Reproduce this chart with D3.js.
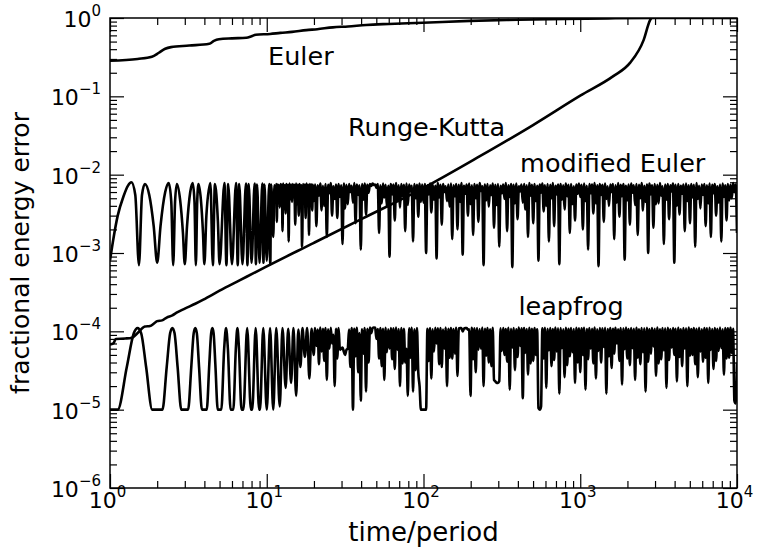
<!DOCTYPE html>
<html>
<head>
<meta charset="utf-8">
<script src="https://cdn.jsdelivr.net/npm/d3@7"></script>
<style>
  html, body { margin: 0; padding: 0; background: #fff; }
  svg { display: block; font-family: "DejaVu Sans", sans-serif; }
</style>
</head>
<body>
<div id="chart"></div>
<script>
// ---- data: [time/period, fractional energy error] ----
const euler = [
  [1.0, 0.285], [1.5, 0.30], [1.85, 0.32], [2.05, 0.36], [2.25, 0.405], [2.45, 0.425],
  [3.2, 0.445], [4.3, 0.47], [4.6, 0.51], [4.95, 0.535], [6.0, 0.55], [7.4, 0.56],
  [8.0, 0.585], [8.5, 0.61], [10.5, 0.625], [12.2, 0.645], [14.5, 0.665], [17.9, 0.70],
  [21, 0.72], [26.4, 0.76], [33, 0.78], [43, 0.815], [60, 0.84], [99, 0.87],
  [198, 0.92], [400, 0.95], [800, 0.975], [1500, 0.99], [3000, 1.0], [10000, 1.0]
];

const rungeKutta = [
  [1.0, 6.8e-5], [1.05, 7.0e-5], [1.09, 8.0e-5], [1.25, 8.1e-5], [1.38, 8.3e-5],
  [1.5, 9.5e-5], [1.67, 1.15e-4], [1.8, 1.17e-4], [1.9, 1.25e-4], [2.0, 1.35e-4],
  [2.15, 1.38e-4], [2.3, 1.5e-4], [2.5, 1.6e-4], [2.66, 1.73e-4], [3.0, 1.95e-4],
  [3.5, 2.25e-4], [3.94, 2.54e-4], [5.0, 3.3e-4], [6.75, 4.5e-4], [9.06, 6.1e-4],
  [20, 1.35e-3], [41.3, 2.79e-3], [95, 6.4e-3], [229, 1.72e-2], [500, 4.3e-2],
  [1000, 0.102], [1625, 0.181], [2077, 0.267], [2540, 0.526], [2790, 0.94], [2850, 1.0]
];

const modEulerEarly = [
  [1.0, 8.0e-4], [1.05, 1.5e-3], [1.12, 3.0e-3], [1.22, 5.3e-3], [1.3, 7.2e-3], [1.37, 8.0e-3],
  [1.45, 5.5e-3], [1.53, 7.0e-4], [1.6, 5.5e-3], [1.67, 7.6e-3], [1.78, 5.5e-3], [1.9, 2.2e-3],
  [2.0, 7.5e-4], [2.1, 2.2e-3], [2.25, 6.0e-3], [2.37, 7.8e-3], [2.46, 4.5e-3], [2.53, 7.0e-4],
  [2.6, 4.5e-3], [2.67, 7.6e-3], [2.8, 4.8e-3], [2.92, 1.8e-3], [3.0, 7.2e-4], [3.1, 2.2e-3],
  [3.25, 6.0e-3], [3.37, 7.8e-3], [3.46, 4.5e-3], [3.53, 7.0e-4], [3.6, 4.5e-3], [3.67, 7.6e-3],
  [3.8, 4.8e-3], [3.92, 1.8e-3], [4.0, 7.2e-4], [4.12, 3.0e-3], [4.37, 7.8e-3], [4.53, 7.0e-4],
  [4.67, 7.6e-3], [4.88, 2.5e-3], [5.0, 7.2e-4], [5.37, 7.8e-3], [5.53, 7.0e-4], [5.67, 7.6e-3],
  [6.0, 7.2e-4], [6.37, 7.8e-3], [6.53, 7.0e-4], [6.67, 7.6e-3], [7.0, 7.2e-4], [7.37, 7.7e-3],
  [7.53, 7.0e-4], [7.67, 7.6e-3], [8.0, 7.5e-4], [8.37, 7.7e-3], [8.53, 7.2e-4], [8.67, 7.5e-3],
  [9.0, 7.5e-4], [9.37, 7.7e-3], [9.53, 7.5e-4], [9.67, 7.5e-3], [10.0, 8.0e-4], [10.37, 7.6e-3],
  [10.53, 7.2e-4], [10.67, 7.5e-3], [11.0, 1.6e-3], [11.2, 7.3e-3], [11.4, 4.6e-3], [11.5, 7.6e-3],
  [11.6, 2.5e-3], [11.7, 7.5e-3], [11.8, 5.0e-3], [11.95, 7.4e-3], [12.1, 3.8e-3], [12.25, 7.6e-3],
  [12.4, 5.2e-3], [12.5, 7.5e-3], [12.6, 1.9e-3], [12.75, 7.7e-3], [12.9, 4.4e-3], [13.05, 7.3e-3],
  [13.2, 3.2e-3], [13.35, 7.6e-3], [13.5, 5.5e-3], [13.65, 7.4e-3], [13.8, 1.4e-3], [13.95, 7.7e-3],
  [14.1, 4.8e-3], [14.3, 7.5e-3], [14.5, 4.5e-3], [14.65, 7.6e-3], [14.8, 5.3e-3], [15.0, 7.4e-3],
  [15.2, 2.3e-3], [15.4, 7.7e-3], [15.6, 4.2e-3], [15.8, 7.5e-3], [16.0, 3.0e-3], [16.2, 7.6e-3],
  [16.4, 5.6e-3], [16.6, 7.3e-3], [16.8, 1.2e-3], [17.05, 7.6e-3], [17.3, 4.7e-3], [17.5, 7.5e-3],
  [17.7, 2.8e-3], [17.95, 7.7e-3], [18.2, 5.1e-3], [18.4, 7.4e-3], [18.6, 1.7e-3], [18.85, 7.6e-3],
  [19.1, 4.9e-3], [19.3, 7.5e-3], [19.5, 3.5e-3], [19.7, 7.4e-3]
];

const leapfrogEarly = [
  [1.0, 1.0e-5], [1.12, 1.0e-5], [1.28, 3.5e-5], [1.42, 9.5e-5], [1.5, 1.1e-4], [1.58, 9.5e-5],
  [1.7, 3.5e-5], [1.86, 1.0e-5], [2.16, 1.0e-5], [2.3, 3.5e-5], [2.42, 9.5e-5], [2.5, 1.1e-4],
  [2.58, 9.5e-5], [2.7, 3.5e-5], [2.85, 1.0e-5], [3.15, 1.0e-5], [3.3, 3.5e-5], [3.42, 9.5e-5],
  [3.5, 1.1e-4], [3.58, 9.5e-5], [3.7, 3.5e-5], [3.86, 1.0e-5], [4.14, 1.0e-5], [4.3, 3.8e-5],
  [4.42, 9.5e-5], [4.5, 1.1e-4], [4.58, 9.5e-5], [4.7, 3.8e-5], [4.87, 1.0e-5], [5.13, 1.0e-5],
  [5.35, 6.0e-5], [5.5, 1.1e-4], [5.65, 6.0e-5], [5.88, 1.0e-5], [6.12, 1.0e-5], [6.35, 6.0e-5],
  [6.5, 1.1e-4], [6.65, 6.0e-5], [6.9, 1.0e-5], [7.1, 1.0e-5], [7.5, 1.1e-4], [7.92, 1.0e-5],
  [8.08, 1.0e-5], [8.5, 1.1e-4], [8.94, 1.0e-5], [9.06, 1.0e-5], [9.5, 1.1e-4], [10.0, 1.0e-5],
  [10.5, 1.1e-4], [11.0, 1.0e-5], [11.5, 1.1e-4], [12.1, 1.1e-5], [12.6, 1.1e-4], [13.2, 1.9e-5],
  [13.7, 1.08e-4], [14.3, 2.2e-5], [14.8, 1.1e-4], [15.4, 1.5e-5], [15.9, 1.05e-4], [16.4, 3.5e-5],
  [16.9, 1.1e-4], [17.5, 4.7e-5], [18.1, 1.1e-4], [18.7, 2.5e-5], [19.3, 1.08e-4]
];

// output times of the long-run samples (shared by the two noisy series)
const noiseTimes = [
  19.95, 20.73, 21.54, 22.39, 23.26, 24.17, 25.12, 26.10, 27.12, 28.18, 29.29, 30.43, 31.62, 32.86,
  34.15, 35.48, 36.87, 38.31, 39.81, 41.37, 42.99, 44.67, 46.42, 48.23, 50.12, 52.08, 54.12, 56.23,
  58.43, 60.72, 63.10, 65.57, 68.13, 70.79, 73.56, 76.44, 79.43, 82.54, 85.77, 89.13, 92.61, 96.24,
  100, 103.9, 108.0, 112.2, 116.6, 121.2, 125.9, 130.8, 135.9, 141.3, 146.8, 152.5, 158.5, 164.7,
  171.1, 177.8, 184.8, 192.0, 199.5, 207.3, 215.4, 223.9, 232.6, 241.7, 251.2, 261.0, 271.2, 281.8,
  292.9, 304.3, 316.2, 328.6, 341.5, 354.8, 368.7, 383.1, 398.1, 413.7, 429.9, 446.7, 464.2, 482.3,
  501.2, 520.8, 541.2, 562.3, 584.3, 607.2, 631.0, 655.7, 681.3, 707.9, 735.6, 764.4, 794.3, 825.4,
  857.7, 891.3, 926.1, 962.4,
  1000, 1039, 1080, 1122, 1166, 1212, 1259, 1308, 1359, 1413, 1468, 1525, 1585, 1647, 1711, 1778,
  1848, 1920, 1995, 2073, 2154, 2239, 2326, 2417, 2512, 2610, 2712, 2818, 2929, 3043, 3162, 3286,
  3415, 3548, 3687, 3831, 3981, 4137, 4299, 4467, 4642, 4823, 5012, 5208, 5412, 5623, 5843, 6072,
  6310, 6557, 6813, 7079, 7356, 7644, 7943, 8254, 8577, 8913, 9261, 9624, 10000
];

// the in-between output times
const noiseMidTimes = [
  20.34, 21.13, 21.96, 22.82, 23.71, 24.64, 25.61, 26.61, 27.65, 28.73, 29.86, 31.02, 32.23, 33.50,
  34.81, 36.17, 37.58, 39.05, 40.58, 42.17, 43.82, 45.54, 47.32, 49.16, 51.09, 53.09, 55.17, 57.32,
  59.56, 61.90, 64.32, 66.84, 69.45, 72.16, 74.99, 77.92, 80.97, 84.14, 87.43, 90.86, 94.40, 98.10,
  101.9, 105.9, 110.1, 114.4, 118.9, 123.5, 128.3, 133.3, 138.5, 144.0, 149.6, 155.5, 161.6, 167.9,
  174.4, 181.2, 188.4, 195.7, 203.4, 211.3, 219.6, 228.2, 237.1, 246.4, 256.1, 266.1, 276.5, 287.3,
  298.6, 310.2, 322.3, 335.0, 348.1, 361.7, 375.8, 390.5, 405.8, 421.7, 438.2, 455.4, 473.2, 491.6,
  510.9, 530.9, 551.7, 573.2, 595.6, 619.0, 643.2, 668.4, 694.5, 721.6, 749.9, 779.2, 809.7, 841.4,
  874.3, 908.6, 944.0, 981.0,
  1019, 1059, 1101, 1144, 1189, 1235, 1283, 1333, 1385, 1440, 1496, 1555, 1616, 1679, 1744, 1812,
  1884, 1957, 2034, 2113, 2196, 2282, 2371, 2464, 2561, 2661, 2765, 2873, 2986, 3102, 3223, 3350,
  3481, 3617, 3758, 3905, 4058, 4217, 4382, 4554, 4732, 4916, 5109, 5309, 5517, 5732, 5956, 6190,
  6432, 6684, 6945, 7216, 7499, 7792, 8097, 8414, 8743, 9086, 9440, 9810
];

// modified Euler: troughs at noiseTimes, crests at noiseMidTimes
const modEulerLate = [
  4.6e-3, 2.2e-3, 5.4e-3, 3.5e-3, 4.0e-3, 1.6e-3, 5.8e-3, 3.0e-3, 4.9e-3, 2.8e-3,
  5.2e-3, 1.3e-3, 3.7e-3, 4.2e-3, 6.0e-3, 4.4e-3, 2.4e-3, 5.5e-3, 1.1e-3, 4.8e-3,
  3.1e-3, 5.9e-3, 7.2e-3, 7.4e-3, 6.8e-3, 1.8e-3, 4.3e-3, 5.1e-3, 3.9e-3, 9.0e-4,
  5.6e-3, 2.6e-3, 4.7e-3, 3.8e-3, 5.3e-3, 1.9e-3, 4.1e-3, 6.1e-3, 1.4e-3, 5.0e-3,
  2.9e-3, 4.5e-3,
  4.4e-3, 1.0e-3, 5.6e-3, 3.3e-3, 4.8e-3, 8.5e-4, 5.1e-3, 2.3e-3, 6.0e-3, 4.6e-3,
  3.9e-3, 1.5e-3, 5.3e-3, 2.0e-3, 4.5e-3, 9.5e-4, 5.7e-3, 3.0e-3, 4.2e-3, 1.7e-3,
  5.0e-3, 2.5e-3, 6.2e-3, 7.0e-4, 4.7e-3, 3.9e-3, 5.5e-3, 2.1e-3, 4.1e-3, 1.2e-3,
  5.8e-3, 4.9e-3, 1.9e-3, 5.2e-3, 6.6e-4, 4.3e-3, 2.7e-3, 6.1e-3, 4.4e-3, 3.6e-3,
  1.6e-3, 5.4e-3, 2.4e-3, 4.6e-3, 8.0e-4, 5.9e-3, 3.4e-3, 4.0e-3, 1.4e-3, 5.0e-3,
  2.2e-3, 5.6e-3, 7.2e-4, 4.8e-3, 3.6e-3, 5.3e-3, 1.8e-3, 4.2e-3, 2.6e-3, 5.7e-3,
  5.2e-3, 2.0e-3, 4.6e-3, 1.1e-3, 5.8e-3, 3.2e-3, 4.3e-3, 6.8e-4, 5.5e-3, 2.5e-3,
  4.9e-3, 4.0e-3, 6.0e-3, 1.5e-3, 4.4e-3, 2.9e-3, 5.3e-3, 8.2e-4, 4.7e-3, 2.3e-3,
  5.9e-3, 4.1e-3, 1.7e-3, 5.0e-3, 3.5e-3, 4.5e-3, 1.0e-3, 5.6e-3, 2.1e-3, 4.2e-3,
  4.3e-3, 5.4e-3, 1.3e-3, 4.8e-3, 2.7e-3, 6.1e-3, 7.5e-4, 4.0e-3, 3.1e-3, 5.7e-3,
  1.9e-3, 4.6e-3, 2.4e-3, 5.1e-3, 1.2e-3, 4.9e-3, 3.7e-3, 5.5e-3, 2.2e-3, 4.3e-3,
  1.6e-3, 5.8e-3, 3.0e-3, 4.4e-3, 1.4e-3, 5.2e-3, 2.6e-3, 4.7e-3, 5.0e-3, 6.0e-3, 1.8e-3
];

const modEulerMid = [
  7.5e-3, 7.3e-3, 7.7e-3, 7.2e-3, 7.6e-3, 7.4e-3, 7.8e-3, 7.1e-3, 7.5e-3, 7.6e-3,
  7.3e-3, 7.7e-3, 7.4e-3, 7.6e-3, 7.2e-3, 7.8e-3, 7.5e-3, 7.3e-3, 7.6e-3, 7.7e-3,
  7.4e-3, 7.6e-3, 7.7e-3, 7.5e-3, 7.6e-3, 7.3e-3, 7.7e-3, 7.4e-3, 7.2e-3, 7.6e-3,
  7.5e-3, 7.8e-3, 7.3e-3, 7.6e-3, 7.4e-3, 7.7e-3, 7.5e-3, 7.2e-3, 7.6e-3, 7.4e-3,
  7.7e-3, 7.5e-3,
  7.6e-3, 7.3e-3, 7.7e-3, 7.5e-3, 7.2e-3, 7.8e-3, 7.4e-3, 7.6e-3, 7.1e-3, 7.5e-3,
  7.7e-3, 7.3e-3, 7.6e-3, 7.4e-3, 7.8e-3, 7.2e-3, 7.5e-3, 7.7e-3, 7.3e-3, 7.6e-3,
  7.4e-3, 7.8e-3, 7.1e-3, 7.5e-3, 7.6e-3, 7.3e-3, 7.7e-3, 7.4e-3, 7.6e-3, 7.2e-3,
  7.5e-3, 7.8e-3, 7.3e-3, 7.6e-3, 7.4e-3, 7.7e-3, 7.1e-3, 7.5e-3, 7.6e-3, 7.3e-3,
  7.8e-3, 7.4e-3, 7.6e-3, 7.2e-3, 7.5e-3, 7.7e-3, 7.3e-3, 7.6e-3, 7.4e-3, 7.8e-3,
  7.2e-3, 7.5e-3, 7.6e-3, 7.3e-3, 7.7e-3, 7.4e-3, 7.6e-3, 7.1e-3, 7.5e-3, 7.7e-3,
  7.4e-3, 7.7e-3, 7.2e-3, 7.6e-3, 7.5e-3, 7.8e-3, 7.3e-3, 7.6e-3, 7.4e-3, 7.7e-3,
  7.1e-3, 7.5e-3, 7.6e-3, 7.3e-3, 7.8e-3, 7.4e-3, 7.6e-3, 7.2e-3, 7.5e-3, 7.7e-3,
  7.3e-3, 7.6e-3, 7.4e-3, 7.8e-3, 7.2e-3, 7.5e-3, 7.7e-3, 7.3e-3, 7.6e-3, 7.4e-3,
  7.8e-3, 7.1e-3, 7.5e-3, 7.6e-3, 7.3e-3, 7.7e-3, 7.4e-3, 7.6e-3, 7.2e-3, 7.5e-3,
  7.7e-3, 7.3e-3, 7.6e-3, 7.4e-3, 7.8e-3, 7.2e-3, 7.5e-3, 7.6e-3, 7.3e-3, 7.7e-3,
  7.4e-3, 7.6e-3, 7.1e-3, 7.5e-3, 7.7e-3, 7.3e-3, 7.6e-3, 7.4e-3, 7.8e-3, 7.5e-3
];

// leapfrog: troughs at noiseTimes, crests at noiseMidTimes
const leapfrogLate = [
  5.0e-5, 6.5e-5, 3.8e-5, 5.5e-5, 4.2e-5, 2.4e-5, 6.0e-5, 7.0e-5, 2.0e-5, 4.5e-5,
  5.8e-5, 6.2e-5, 5.0e-5, 6.0e-5, 3.5e-5, 1.0e-5, 4.8e-5, 3.0e-5, 1.3e-5, 5.2e-5,
  1.7e-5, 4.0e-5, 9.5e-5, 1.12e-4, 8.0e-5, 4.5e-5, 3.6e-5, 2.4e-5, 5.4e-5, 6.0e-5,
  4.4e-5, 3.3e-5, 5.8e-5, 2.0e-5, 3.9e-5, 4.0e-5, 1.5e-5, 4.6e-5, 1.7e-5, 3.2e-5,
  3.0e-5, 1.0e-5,
  1.0e-5, 1.0e-5, 4.2e-5, 2.5e-5, 5.5e-5, 7.0e-5, 3.8e-5, 3.5e-5, 6.0e-5, 2.0e-5,
  4.6e-5, 4.5e-5, 5.2e-5, 2.7e-5, 1.1e-4, 1.0e-4, 1.1e-4, 1.05e-4, 1.5e-5, 4.4e-5,
  3.0e-5, 5.8e-5, 6.0e-5, 2.0e-5, 4.9e-5, 4.0e-5, 3.6e-5, 2.4e-5, 2.2e-5, 2.3e-5,
  5.6e-5, 5.0e-5, 4.1e-5, 1.8e-5, 6.2e-5, 3.2e-5, 4.7e-5, 6.5e-5, 1.4e-5, 5.3e-5,
  2.8e-5, 3.9e-5, 4.2e-5, 5.0e-5, 1.05e-5, 1.1e-5, 4.5e-5, 1.9e-5, 5.7e-5, 3.6e-5,
  4.3e-5, 5.5e-5, 1.6e-5, 6.1e-5, 2.6e-5, 3.7e-5, 4.8e-5, 5.4e-5, 2.2e-5, 4.0e-5,
  3.0e-5, 5.0e-5, 1.8e-5, 4.4e-5, 6.0e-5, 3.9e-5, 2.5e-5, 5.6e-5, 4.0e-5, 6.3e-5,
  1.6e-5, 4.8e-5, 3.4e-5, 5.2e-5, 7.0e-5, 4.2e-5, 2.1e-5, 5.9e-5, 4.5e-5, 3.7e-5,
  6.1e-5, 2.4e-5, 4.6e-5, 3.8e-5, 5.4e-5, 1.7e-5, 4.1e-5, 5.2e-5, 6.4e-5, 2.7e-5,
  3.9e-5, 4.4e-5, 5.7e-5, 1.9e-5, 4.3e-5, 6.2e-5, 5.0e-5, 2.3e-5, 4.7e-5, 3.6e-5,
  6.0e-5, 2.0e-5, 4.9e-5, 5.0e-5, 3.8e-5, 2.6e-5, 5.5e-5, 4.1e-5, 4.6e-5, 2.2e-5,
  5.8e-5, 3.3e-5, 4.2e-5, 5.6e-5, 6.1e-5, 2.8e-5, 4.5e-5, 4.6e-5, 5.3e-5, 1.3e-5, 4.0e-5
];

const leapfrogMid = [
  1.1e-4, 1.05e-4, 1.12e-4, 1.08e-4, 1.1e-4, 1.06e-4, 1.11e-4, 9.0e-5, 1.08e-4, 1.1e-4,
  6.0e-5, 5.5e-5, 5.8e-5, 1.05e-4, 1.1e-4, 1.08e-4, 1.11e-4, 9.5e-5, 1.06e-4, 1.1e-4,
  1.08e-4, 1.12e-4, 1.1e-4, 1.11e-4, 1.07e-4, 1.1e-4, 1.08e-4, 1.11e-4, 1.06e-4, 1.1e-4,
  1.09e-4, 1.12e-4, 1.07e-4, 1.1e-4, 1.08e-4, 6.0e-5, 1.09e-4, 1.11e-4, 1.06e-4, 1.1e-4,
  2.0e-5, 1.0e-5,
  1.0e-5, 1.08e-4, 1.1e-4, 1.06e-4, 1.11e-4, 1.09e-4, 1.1e-4, 1.05e-4, 1.12e-4, 1.08e-4,
  1.1e-4, 1.07e-4, 1.11e-4, 1.09e-4, 1.1e-4, 1.08e-4, 1.1e-4, 1.06e-4, 1.11e-4, 1.09e-4,
  1.1e-4, 1.07e-4, 1.12e-4, 1.08e-4, 1.1e-4, 1.06e-4, 1.11e-4, 2.3e-5, 2.2e-5, 1.09e-4,
  1.1e-4, 1.07e-4, 1.11e-4, 1.08e-4, 1.1e-4, 1.06e-4, 1.12e-4, 1.09e-4, 1.1e-4, 1.07e-4,
  1.11e-4, 1.08e-4, 1.1e-4, 1.06e-4, 1.0e-5, 1.09e-4, 1.11e-4, 1.08e-4, 1.1e-4, 1.07e-4,
  1.12e-4, 1.09e-4, 1.1e-4, 1.06e-4, 1.11e-4, 1.08e-4, 1.1e-4, 1.07e-4, 1.11e-4, 1.09e-4,
  1.09e-4, 1.11e-4, 1.07e-4, 1.1e-4, 1.08e-4, 1.12e-4, 1.06e-4, 1.1e-4, 1.09e-4, 1.11e-4,
  1.07e-4, 1.1e-4, 1.08e-4, 1.11e-4, 1.06e-4, 1.1e-4, 1.09e-4, 1.12e-4, 1.07e-4, 1.1e-4,
  1.08e-4, 1.11e-4, 1.06e-4, 1.1e-4, 1.09e-4, 1.11e-4, 1.07e-4, 1.1e-4, 1.08e-4, 1.12e-4,
  1.06e-4, 1.1e-4, 1.09e-4, 1.11e-4, 1.07e-4, 1.1e-4, 1.08e-4, 1.11e-4, 1.06e-4, 1.1e-4,
  1.09e-4, 1.12e-4, 1.07e-4, 1.1e-4, 1.08e-4, 1.11e-4, 1.06e-4, 1.1e-4, 1.09e-4, 1.11e-4,
  1.07e-4, 1.1e-4, 1.08e-4, 1.12e-4, 1.06e-4, 1.1e-4, 1.09e-4, 1.11e-4, 1.08e-4, 1.2e-5
];

// axis ticks and labels
const xMajor = [1, 10, 100, 1000, 10000];
const xTickExp = ["0", "1", "2", "3", "4"];
const yMajor = [1e-6, 1e-5, 1e-4, 1e-3, 1e-2, 1e-1, 1];
const yTickExp = ["\u22126", "\u22125", "\u22124", "\u22123", "\u22122", "\u22121", "0"];

const annotations = [
  { text: "Euler", t: 10.2, v: 0.251 },
  { text: "Runge-Kutta", t: 33.0, v: 0.0312 },
  { text: "modified Euler", t: 413, v: 0.0108 },
  { text: "leapfrog", t: 403, v: 1.62e-4 }
];

// ---- layout ----
const width = 759, height = 552;
const margin = { top: 18, right: 22, bottom: 64, left: 110 };

const x = d3.scaleLog().domain([1, 1e4]).range([margin.left, width - margin.right]);
const y = d3.scaleLog().domain([1e-6, 1]).range([height - margin.bottom, margin.top]);

const svg = d3.select("#chart").append("svg")
    .attr("width", width)
    .attr("height", height);

svg.append("clipPath").attr("id", "plot-clip")
  .append("rect")
    .attr("x", x.range()[0])
    .attr("y", y.range()[1])
    .attr("width", x.range()[1] - x.range()[0])
    .attr("height", y.range()[0] - y.range()[1]);

const zip = (ts, vs) => ts.map((t, i) => [t, vs[i]]);
const byTime = (a, b) => a[0] - b[0];

const series = [
  euler,
  rungeKutta,
  modEulerEarly.concat(zip(noiseTimes, modEulerLate), zip(noiseMidTimes, modEulerMid)).sort(byTime),
  leapfrogEarly.concat(zip(noiseTimes, leapfrogLate), zip(noiseMidTimes, leapfrogMid)).sort(byTime)
];

const line = d3.line()
    .x(d => x(d[0]))
    .y(d => y(d[1]))
    .curve(d3.curveMonotoneX);

svg.append("g")
    .attr("clip-path", "url(#plot-clip)")
  .selectAll("path")
  .data(series)
  .join("path")
    .attr("fill", "none")
    .attr("stroke", "#000")
    .attr("stroke-width", 2.6)
    .attr("stroke-linejoin", "round")
    .attr("d", line);

// ---- ticks (inward on all four sides) ----
const isDecade = v => Math.abs(Math.log10(v) - Math.round(Math.log10(v))) < 1e-9;
const xMinor = x.ticks().filter(v => !isDecade(v));
const yMinor = y.ticks().filter(v => !isDecade(v));

const addAxis = (axis, tx, ty) => {
  const g = svg.append("g")
      .attr("transform", `translate(${tx},${ty})`)
      .call(axis);
  g.attr("font-size", null).attr("font-family", null);
  g.select(".domain").remove();
  g.selectAll(".tick line").attr("stroke", "#000").attr("stroke-width", 1.2);
  return g;
};

const bottomY = y.range()[0], topY = y.range()[1];
const leftX = x.range()[0], rightX = x.range()[1];

const gx = addAxis(d3.axisBottom(x).tickValues(xMajor).tickSizeInner(-14).tickSizeOuter(0).tickPadding(0), 0, bottomY);
addAxis(d3.axisBottom(x).tickValues(xMinor).tickSizeInner(-7).tickSizeOuter(0).tickFormat(() => ""), 0, bottomY);
addAxis(d3.axisTop(x).tickValues(xMajor).tickSizeInner(-14).tickSizeOuter(0).tickFormat(() => ""), 0, topY);
addAxis(d3.axisTop(x).tickValues(xMinor).tickSizeInner(-7).tickSizeOuter(0).tickFormat(() => ""), 0, topY);

const gy = addAxis(d3.axisLeft(y).tickValues(yMajor).tickSizeInner(-14).tickSizeOuter(0).tickPadding(0), leftX, 0);
addAxis(d3.axisLeft(y).tickValues(yMinor).tickSizeInner(-7).tickSizeOuter(0).tickFormat(() => ""), leftX, 0);
addAxis(d3.axisRight(y).tickValues(yMajor).tickSizeInner(-14).tickSizeOuter(0).tickFormat(() => ""), rightX, 0);
addAxis(d3.axisRight(y).tickValues(yMinor).tickSizeInner(-7).tickSizeOuter(0).tickFormat(() => ""), rightX, 0);

// power-of-ten labels with a raised exponent
const powerLabels = (g, exps) => {
  g.selectAll(".tick text").each(function(d, i) {
    const t = d3.select(this).text(null)
        .attr("fill", "#000")
        .attr("font-size", 22);
    t.append("tspan").text("10");
    t.append("tspan").attr("dy", -11).attr("font-size", 15).text(exps[i]);
  });
};

powerLabels(gx, xTickExp);
gx.selectAll(".tick text").attr("y", 19.5).attr("dy", null).attr("x", -3);

powerLabels(gy, yTickExp);
gy.selectAll(".tick text").attr("x", -9).attr("y", 8.5).attr("dy", null);

// frame
svg.append("rect")
    .attr("x", leftX)
    .attr("y", topY)
    .attr("width", rightX - leftX)
    .attr("height", bottomY - topY)
    .attr("fill", "none")
    .attr("stroke", "#000")
    .attr("stroke-width", 1.5);

// ---- text ----
svg.append("g")
  .selectAll("text")
  .data(annotations)
  .join("text")
    .attr("x", d => x(d.t))
    .attr("y", d => y(d.v))
    .attr("font-size", 25.5)
    .attr("fill", "#000")
    .text(d => d.text);

svg.append("text")
    .attr("x", (leftX + rightX) / 2)
    .attr("y", 541)
    .attr("text-anchor", "middle")
    .attr("font-size", 26)
    .text("time/period");

svg.append("text")
    .attr("transform", `translate(29,${(topY + bottomY) / 2}) rotate(-90)`)
    .attr("text-anchor", "middle")
    .attr("font-size", 25)
    .text("fractional energy error");
</script>
</body>
</html>
